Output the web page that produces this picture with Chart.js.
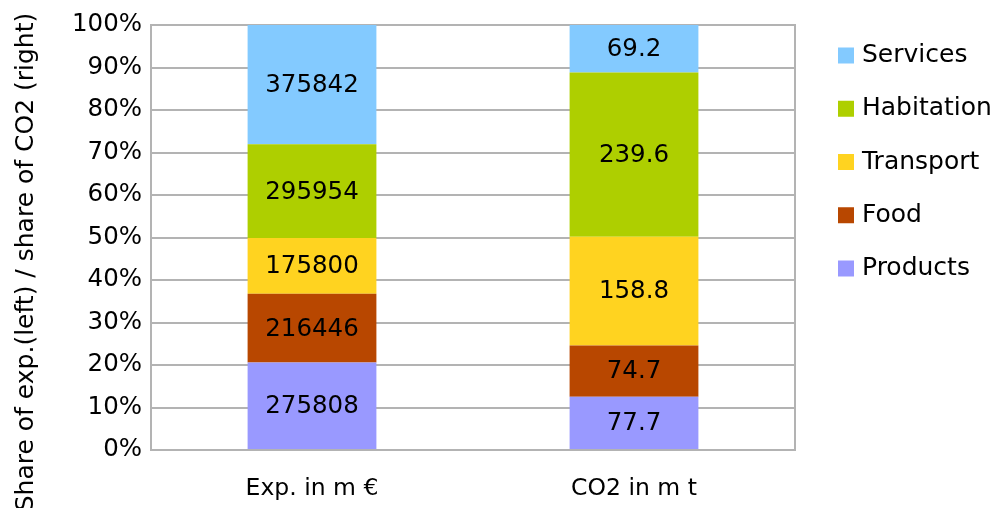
<!DOCTYPE html>
<html>
<head>
<meta charset="utf-8">
<script src="https://cdn.jsdelivr.net/npm/chart.js@4/dist/chart.umd.min.js"></script>
<style>
  html, body { margin: 0; padding: 0; background: #ffffff; }
  #wrap { width: 996px; height: 508px; position: relative; }
</style>
</head>
<body>
<div id="wrap"><canvas id="chart" width="996" height="508"></canvas></div>
<script>
// Categories (x axis)
const categories = ['Exp. in m €', 'CO2 in m t'];

// Series, bottom to top: [expenditure in m €, CO2 in m t]
const seriesNames = ['Products', 'Food', 'Transport', 'Habitation', 'Services'];
const products   = [275808, 77.7];
const food       = [216446, 74.7];
const transport  = [175800, 158.8];
const habitation = [295954, 239.6];
const services   = [375842, 69.2];
const seriesValues = [products, food, transport, habitation, services];
const seriesColors = ['#9999ff', '#b84700', '#ffd320', '#aecf00', '#83caff'];

// Y ticks (percent share)
const yTicks = [0, 10, 20, 30, 40, 50, 60, 70, 80, 90, 100];
const yTitle = 'Share of exp.(left) / share of CO2 (right)';

const FONT = 'DejaVu Sans';
const GRID = '#b3b3b3';

// Column totals, used to turn values into shares of each column
const totals = categories.map((_, i) => seriesValues.reduce((s, arr) => s + arr[i], 0));

const datasets = seriesNames.map((name, k) => ({
  label: name,
  raw: seriesValues[k],
  data: seriesValues[k].map((v, i) => v / totals[i] * 100),
  backgroundColor: seriesColors[k],
  borderWidth: 0,
  categoryPercentage: 1.0,
  barPercentage: 0.4
}));

// Value labels in the middle of each segment, right border, axis title and legend
const decorations = {
  id: 'decorations',
  afterDatasetsDraw(chart) {
    const ctx = chart.ctx;
    ctx.save();
    ctx.font = '24.5px "' + FONT + '"';
    ctx.fillStyle = '#000000';
    ctx.textAlign = 'center';
    ctx.textBaseline = 'middle';
    chart.data.datasets.forEach((ds, di) => {
      const meta = chart.getDatasetMeta(di);
      meta.data.forEach((bar, i) => {
        const y = (bar.y + bar.base) / 2;
        ctx.fillText(String(ds.raw[i]), bar.x, y + 1);
      });
    });
    ctx.restore();
  },
  afterDraw(chart) {
    const ctx = chart.ctx;
    const a = chart.chartArea;
    ctx.save();
    // right frame line
    ctx.strokeStyle = GRID;
    ctx.lineWidth = 2;
    ctx.beginPath();
    ctx.moveTo(a.right, a.top - 1);
    ctx.lineTo(a.right, a.bottom + 1);
    ctx.stroke();

    // rotated y axis title
    ctx.fillStyle = '#000000';
    ctx.font = '25px "' + FONT + '"';
    ctx.translate(33, 262);
    ctx.rotate(-Math.PI / 2);
    ctx.textAlign = 'center';
    ctx.textBaseline = 'alphabetic';
    ctx.fillText(yTitle, 0, 0);
    ctx.restore();

    // legend, top series first
    ctx.save();
    ctx.font = '25px "' + FONT + '"';
    ctx.textAlign = 'left';
    ctx.textBaseline = 'middle';
    const n = chart.data.datasets.length;
    for (let j = 0; j < n; j++) {
      const ds = chart.data.datasets[n - 1 - j];
      const cy = 55.5 + j * 53.25;
      ctx.fillStyle = ds.backgroundColor;
      ctx.fillRect(838, cy - 8, 16, 16);
      ctx.fillStyle = '#000000';
      ctx.fillText(ds.label, 862, cy);
    }
    ctx.restore();
  }
};

new Chart(document.getElementById('chart'), {
  type: 'bar',
  data: { labels: categories, datasets },
  options: {
    responsive: false,
    animation: false,
    devicePixelRatio: 1,
    layout: { padding: { top: 25, right: 201, bottom: 0, left: 0 } },
    plugins: {
      legend: { display: false },
      tooltip: { enabled: false }
    },
    scales: {
      x: {
        stacked: true,
        grid: { display: false, drawTicks: false },
        border: { display: true, color: GRID, width: 2 },
        ticks: {
          color: '#000000',
          font: { family: FONT, size: 23.5 },
          padding: 25,
          maxRotation: 0
        },
        afterFit(scale) { scale.height = 58; }
      },
      y: {
        stacked: true,
        min: 0,
        max: 100,
        afterBuildTicks(scale) { scale.ticks = yTicks.map(v => ({ value: v })); },
        grid: { color: GRID, lineWidth: 2, drawTicks: false },
        border: { display: true, color: GRID, width: 2 },
        ticks: {
          color: '#000000',
          font: { family: FONT, size: 24.5 },
          padding: 9,
          callback: v => v + '%'
        },
        afterFit(scale) { scale.width = 151; }
      }
    }
  },
  plugins: [decorations]
});
</script>
</body>
</html>
